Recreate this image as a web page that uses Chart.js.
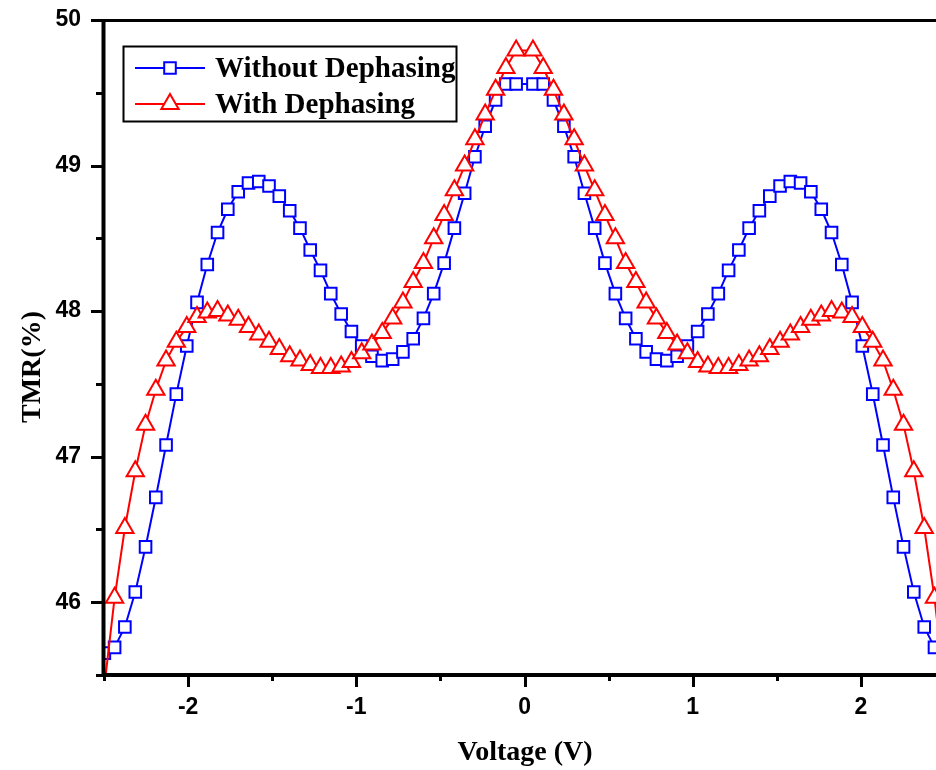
<!DOCTYPE html>
<html>
<head>
<meta charset="utf-8">
<title>TMR vs Voltage</title>
<script src="https://cdn.jsdelivr.net/npm/chart.js@4.4.0/dist/chart.umd.min.js"></script>
<style>
  html, body { margin: 0; padding: 0; background: #fff; }
  canvas { display: block; }
</style>
</head>
<body>
<canvas id="chart" width="936" height="770"></canvas>
<script>
// bias voltage (V)
const voltage = [
  -2.498, -2.437, -2.376, -2.314, -2.253, -2.192, -2.131, -2.070, -2.008, -1.947,
  -1.886, -1.825, -1.764, -1.702, -1.641, -1.580, -1.519, -1.458, -1.396, -1.335,
  -1.274, -1.213, -1.152, -1.090, -1.029, -0.968, -0.907, -0.846, -0.784, -0.723,
  -0.662, -0.601, -0.540, -0.478, -0.417, -0.356, -0.295, -0.234, -0.172, -0.111,
  -0.050, 0.050, 0.111, 0.172, 0.234, 0.295, 0.356, 0.417, 0.478, 0.540,
  0.601, 0.662, 0.723, 0.784, 0.846, 0.907, 0.968, 1.029, 1.090, 1.152,
  1.213, 1.274, 1.335, 1.396, 1.458, 1.519, 1.580, 1.641, 1.702, 1.764,
  1.825, 1.886, 1.947, 2.008, 2.070, 2.131, 2.192, 2.253, 2.314, 2.376,
  2.437, 2.498
];

// TMR (%) without dephasing
const tmrWithout = [
  45.65, 45.69, 45.83, 46.07, 46.38, 46.72, 47.08, 47.43, 47.76, 48.06,
  48.32, 48.54, 48.70, 48.82, 48.88, 48.89, 48.86, 48.79, 48.69, 48.57,
  48.42, 48.28, 48.12, 47.98, 47.86, 47.76, 47.69, 47.66, 47.67, 47.72,
  47.81, 47.95, 48.12, 48.33, 48.57, 48.81, 49.06, 49.27, 49.45, 49.56,
  49.56, 49.56, 49.56, 49.45, 49.27, 49.06, 48.81, 48.57, 48.33, 48.12,
  47.95, 47.81, 47.72, 47.67, 47.66, 47.69, 47.76, 47.86, 47.98, 48.12,
  48.28, 48.42, 48.57, 48.69, 48.79, 48.86, 48.89, 48.88, 48.82, 48.70,
  48.54, 48.32, 48.06, 47.76, 47.43, 47.08, 46.72, 46.38, 46.07, 45.83,
  45.69, 45.65
];

// TMR (%) with dephasing
const tmrWith = [
  45.42, 46.03, 46.51, 46.90, 47.22, 47.46, 47.66, 47.79, 47.89, 47.96,
  47.99, 48.00, 47.97, 47.94, 47.89, 47.84, 47.79, 47.74, 47.69, 47.66,
  47.63, 47.61, 47.61, 47.62, 47.65, 47.71, 47.77, 47.85, 47.95, 48.06,
  48.20, 48.33, 48.50, 48.66, 48.83, 49.00, 49.18, 49.35, 49.52, 49.67,
  49.79, 49.79, 49.67, 49.52, 49.35, 49.18, 49.00, 48.83, 48.66, 48.50,
  48.33, 48.20, 48.06, 47.95, 47.85, 47.77, 47.71, 47.65, 47.62, 47.61,
  47.61, 47.63, 47.66, 47.69, 47.74, 47.79, 47.84, 47.89, 47.94, 47.97,
  48.00, 47.99, 47.96, 47.89, 47.79, 47.66, 47.46, 47.22, 46.90, 46.51,
  46.03, 45.42
];

const xTicks = [-2, -1, 0, 1, 2];
const xMinorTicks = [-2.5, -1.5, -0.5, 0.5, 1.5];
const yTicks = [46, 47, 48, 49, 50];
const yMinorTicks = [45.5, 46.5, 47.5, 48.5, 49.5];

const toPoints = (xs, ys) => xs.map((x, i) => ({ x: x, y: ys[i] }));

// axes, tick marks, axis titles and the boxed legend
const frame = {
  id: 'frame',
  afterDatasetsDraw(chart) {
    const ctx = chart.ctx;
    const area = chart.chartArea;
    const xs = chart.scales.x;
    const ys = chart.scales.y;
    ctx.save();
    ctx.strokeStyle = '#000';
    ctx.lineCap = 'butt';

    // top line
    ctx.lineWidth = 3;
    ctx.beginPath();
    ctx.moveTo(area.left, 20.5);
    ctx.lineTo(chart.width, 20.5);
    ctx.stroke();

    // left and bottom axes
    ctx.lineWidth = 4;
    ctx.beginPath();
    ctx.moveTo(103.5, 19);
    ctx.lineTo(103.5, 677);
    ctx.moveTo(101.5, 675);
    ctx.lineTo(chart.width, 675);
    ctx.stroke();

    // tick marks
    ctx.lineWidth = 3;
    ctx.beginPath();
    yTicks.forEach(v => {
      const y = Math.round(ys.getPixelForValue(v)) + 0.5;
      ctx.moveTo(91, y); ctx.lineTo(103, y);
    });
    yMinorTicks.forEach(v => {
      const y = Math.round(ys.getPixelForValue(v)) + 0.5;
      ctx.moveTo(96, y); ctx.lineTo(103, y);
    });
    xTicks.forEach(v => {
      const x = Math.round(xs.getPixelForValue(v)) + 0.5;
      ctx.moveTo(x, 675); ctx.lineTo(x, 687);
    });
    xMinorTicks.forEach(v => {
      const x = Math.round(xs.getPixelForValue(v)) + 0.5;
      ctx.moveTo(x, 675); ctx.lineTo(x, 681);
    });
    ctx.stroke();

    // axis titles
    ctx.fillStyle = '#000';
    ctx.font = 'bold 28px "Liberation Serif", "Times New Roman", serif';
    ctx.textAlign = 'center';
    ctx.textBaseline = 'alphabetic';
    ctx.fillText('Voltage (V)', 525, 760);
    ctx.save();
    ctx.translate(40, 367);
    ctx.rotate(-Math.PI / 2);
    ctx.fillText('TMR(%)', 0, 0);
    ctx.restore();

    // legend
    ctx.lineWidth = 2;
    ctx.strokeRect(123.5, 46.5, 333, 75);
    const rows = [77, 113];
    chart.data.datasets.forEach((ds, i) => {
      const base = rows[i];
      const mid = base - 9;
      ctx.strokeStyle = ds.borderColor;
      ctx.lineWidth = ds.borderWidth;
      ctx.beginPath();
      ctx.moveTo(135, mid);
      ctx.lineTo(205, mid);
      ctx.stroke();
      ctx.fillStyle = ds.pointBackgroundColor;
      ctx.lineWidth = ds.pointBorderWidth;
      Chart.helpers.drawPoint(ctx, {
        pointStyle: ds.pointStyle,
        radius: ds.pointRadius,
        borderWidth: ds.pointBorderWidth,
        rotation: 0
      }, 170, mid);
      ctx.fillStyle = '#000';
      ctx.font = 'bold 29px "Liberation Serif", "Times New Roman", serif';
      ctx.textAlign = 'left';
      ctx.fillText(ds.label, 215, base);
    });
    ctx.restore();
  }
};

const tickFont = { family: '"Liberation Sans", Arial, sans-serif', size: 23, weight: 'bold' };

const ctx = document.getElementById('chart').getContext('2d');
new Chart(ctx, {
  type: 'line',
  data: {
    datasets: [
      {
        label: 'Without Dephasing',
        data: toPoints(voltage, tmrWithout),
        borderColor: '#0000ff',
        backgroundColor: '#ffffff',
        borderWidth: 2,
        pointStyle: 'rect',
        pointRadius: 8.2,
        pointBorderWidth: 2,
        pointBackgroundColor: '#ffffff',
        pointBorderColor: '#0000ff',
        tension: 0,
        order: 1
      },
      {
        label: 'With Dephasing',
        data: toPoints(voltage, tmrWith),
        borderColor: '#ff0000',
        backgroundColor: '#ffffff',
        borderWidth: 2,
        pointStyle: 'triangle',
        pointRadius: 10,
        pointBorderWidth: 2,
        pointBackgroundColor: '#ffffff',
        pointBorderColor: '#ff0000',
        tension: 0,
        order: 0
      }
    ]
  },
  options: {
    responsive: false,
    animation: false,
    devicePixelRatio: 1,
    layout: { autoPadding: false, padding: { top: 20, right: 0, bottom: 0, left: 0 } },
    plugins: {
      legend: { display: false },
      tooltip: { enabled: false }
    },
    scales: {
      x: {
        type: 'linear',
        min: -2.5,
        max: 2.446,
        afterBuildTicks: scale => { scale.ticks = xTicks.map(v => ({ value: v })); },
        afterFit: scale => {
          scale.height = 95;
          scale.paddingLeft = 0;
          scale.paddingRight = 0;
        },
        grid: { display: false, drawTicks: false },
        border: { display: false },
        ticks: { padding: 19, color: '#000', font: tickFont, maxRotation: 0, autoSkip: false }
      },
      y: {
        type: 'linear',
        min: 45.5,
        max: 50,
        afterBuildTicks: scale => { scale.ticks = yTicks.map(v => ({ value: v })); },
        afterFit: scale => {
          scale.width = 104;
          scale.paddingTop = 0;
          scale.paddingBottom = 0;
        },
        grid: { display: false, drawTicks: false },
        border: { display: false },
        ticks: { padding: 23, color: '#000', font: tickFont }
      }
    }
  },
  plugins: [frame]
});
</script>
</body>
</html>
